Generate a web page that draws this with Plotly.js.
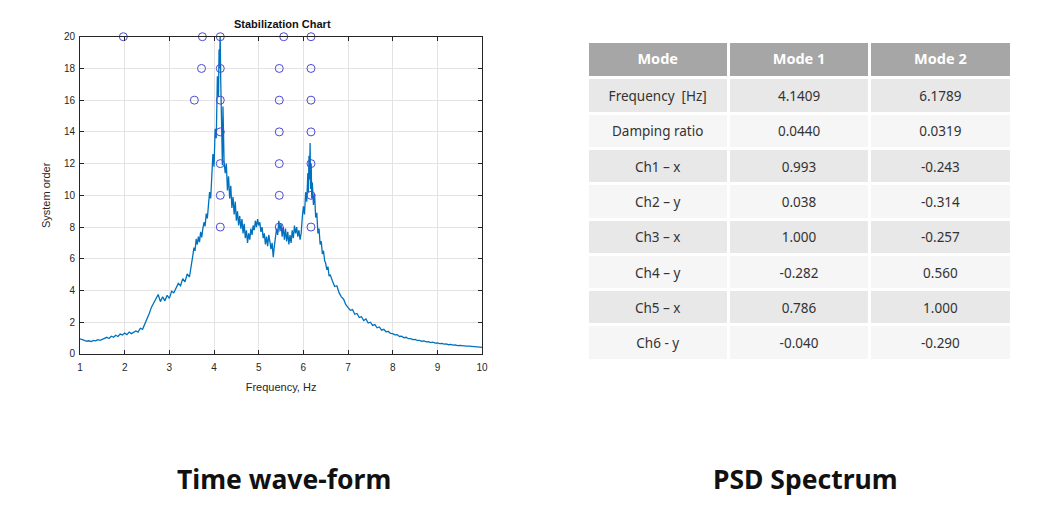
<!DOCTYPE html>
<html>
<head>
<meta charset="utf-8">
<script src="https://cdn.plot.ly/plotly-3.0.1.min.js"></script>
<style>html,body{margin:0;padding:0;background:#fff;}#chart{width:1039px;height:510px;}</style>
</head>
<body>
<div id="chart"></div>
<script>
// PSD curve (frequency in Hz, amplitude plotted on the "System order" axis)
var psdFreq = [
1.00,1.05,1.10,1.15,1.20,1.25,1.30,1.35,1.40,1.45,1.50,1.55,1.60,1.65,1.70,1.75,1.80,1.85,1.90,1.95,
2.00,2.05,2.10,2.15,2.20,2.25,2.30,2.35,2.40,2.45,2.50,2.55,2.60,2.65,2.70,2.75,2.80,2.85,2.90,2.95,
3.00,3.05,3.10,3.15,3.20,3.25,3.30,3.35,3.40,3.45,
3.475,3.500,3.525,3.550,3.575,3.600,3.625,3.650,3.675,3.700,3.725,3.750,3.775,3.800,3.825,3.850,3.875,3.900,3.925,3.950,3.975,
4.000,4.025,4.050,4.075,4.100,4.112,4.125,4.137,4.150,4.162,4.175,4.187,4.200,4.225,4.250,4.275,4.300,4.325,4.350,4.375,4.400,
4.425,4.450,4.475,4.500,4.525,4.550,4.575,4.600,4.625,4.650,4.675,4.700,4.725,4.750,4.775,4.800,4.825,4.850,4.875,4.900,4.925,4.950,4.975,
5.000,5.025,5.050,5.075,5.100,5.125,5.150,5.175,5.200,5.225,5.250,5.275,5.300,5.325,5.350,5.375,5.400,5.425,5.450,5.475,5.500,
5.525,5.550,5.575,5.600,5.625,5.650,5.675,5.700,5.725,5.750,5.775,5.800,5.825,5.850,5.875,5.900,5.925,5.950,5.975,
6.000,6.025,6.050,6.075,6.100,6.112,6.125,6.137,6.150,6.162,6.175,6.187,6.200,6.225,6.250,6.275,6.300,6.325,6.350,6.375,6.400,
6.425,6.450,6.475,6.500,6.525,6.550,6.575,6.600,
6.65,6.70,6.75,6.80,6.85,6.90,6.95,7.00,7.05,7.10,7.15,7.20,7.25,7.30,7.35,7.40,7.45,7.50,7.55,7.60,
7.65,7.70,7.75,7.80,7.85,7.90,7.95,8.00,8.05,8.10,8.15,8.20,8.25,8.30,8.35,8.40,8.45,8.50,8.55,8.60,
8.65,8.70,8.75,8.80,8.85,8.90,8.95,9.00,9.05,9.10,9.15,9.20,9.25,9.30,9.35,9.40,9.45,9.50,9.55,9.60,
9.65,9.70,9.75,9.80,9.85,9.90,9.95,10.00];
var psdValue = [
0.95,0.88,0.85,0.80,0.83,0.78,0.85,0.82,0.90,0.86,0.93,0.98,1.05,0.97,1.12,1.05,1.18,1.10,1.25,1.20,
1.32,1.22,1.38,1.28,1.35,1.45,1.38,1.62,1.55,1.85,2.25,2.55,2.95,3.25,3.50,3.75,3.30,3.60,3.35,3.70,
3.50,3.95,3.85,4.20,4.45,4.30,4.75,4.55,5.05,4.85,
5.25,5.60,6.20,6.70,6.50,7.25,6.90,7.40,7.05,7.70,7.35,7.90,8.30,8.05,8.85,8.55,9.40,10.20,9.80,11.20,12.60,
11.80,14.20,13.60,17.50,16.20,19.20,18.00,20.30,17.20,15.80,14.80,11.90,15.60,12.10,11.40,12.00,10.30,11.20,9.80,10.60,9.20,
9.90,8.80,9.60,8.40,9.00,8.10,8.70,7.90,8.50,7.60,8.20,7.30,7.80,7.00,7.60,7.20,7.90,7.50,8.10,7.80,8.40,8.00,8.50,
8.10,8.30,7.70,8.00,7.30,7.60,6.90,7.40,6.80,7.50,7.10,6.60,7.00,6.10,6.80,7.40,7.90,7.50,8.40,7.80,8.20,
7.40,8.00,7.20,7.90,7.10,7.70,6.90,7.50,7.00,7.80,7.30,8.10,7.60,8.00,7.40,7.80,7.20,7.60,8.60,
9.30,8.80,10.20,9.60,11.40,10.20,12.50,11.00,13.30,10.40,12.00,9.80,10.80,9.40,10.10,8.60,8.90,7.60,7.90,6.90,7.10,
6.30,6.50,5.90,5.70,5.30,5.50,4.90,5.00,
4.60,4.25,4.30,3.85,3.60,3.45,3.10,2.95,2.75,2.80,2.50,2.55,2.30,2.35,2.10,2.20,1.95,2.00,1.80,1.85,
1.65,1.70,1.50,1.55,1.40,1.42,1.30,1.28,1.20,1.22,1.10,1.12,1.02,1.05,0.96,0.97,0.90,0.92,0.85,0.86,
0.80,0.82,0.76,0.78,0.72,0.74,0.68,0.70,0.65,0.66,0.62,0.63,0.58,0.60,0.56,0.57,0.53,0.54,0.51,0.52,
0.49,0.49,0.47,0.47,0.45,0.45,0.43,0.42];

// Stable poles (frequency, model order)
var poleFreq  = [1.97, 3.74, 3.72, 3.56, 4.14,4.14,4.14,4.14,4.14,4.14,4.14, 5.56, 5.46,5.46,5.46,5.46,5.46,5.46, 6.17,6.17,6.17,6.17,6.17,6.17,6.17];
var poleOrder = [20,   20,   18,   16,   20,18,16,14,12,10,8,               20,   18,16,14,12,10,8,               20,18,16,14,12,10,8];

// Table contents
var tableHeader = ["Mode", "Mode 1", "Mode 2"];
var rowLabels = ["Frequency  [Hz]", "Damping ratio", "Ch1 \u2013 x", "Ch2 \u2013 y", "Ch3 \u2013 x", "Ch4 \u2013 y", "Ch5 \u2013 x", "Ch6 - y"];
var mode1Values = ["4.1409", "0.0440", "0.993", "0.038", "1.000", "-0.282", "0.786", "-0.040"];
var mode2Values = ["6.1789", "0.0319", "-0.243", "-0.314", "-0.257", "0.560", "1.000", "-0.290"];

var captions = ["Time wave-form", "PSD Spectrum"];

var rowFill = rowLabels.map(function(_, i){ return i % 2 === 0 ? "#e8e8e8" : "#f6f6f6"; });
var blank = rowLabels.map(function(){ return ""; });
var clear = "rgba(0,0,0,0)";

var traces = [
  {
    type: "scatter", mode: "lines", x: psdFreq, y: psdValue,
    line: {color: "#0072bd", width: 1.3}, xaxis: "x", yaxis: "y", hoverinfo: "skip"
  },
  {
    type: "scatter", mode: "markers", x: poleFreq, y: poleOrder, cliponaxis: false,
    marker: {symbol: "circle-open", size: 8, color: "#4a4ad8", line: {width: 1, color: "#4a4ad8"}},
    xaxis: "x", yaxis: "y"
  },
  // table body: cell backgrounds
  {
    type: "table",
    domain: {x: [0.565, 0.974], y: [0.28, 0.918]},
    columnwidth: [1, 1, 1],
    header: {
      values: ["", "", ""],
      fill: {color: "#a6a6a6"},
      line: {color: "#ffffff", width: 3},
      height: 36
    },
    cells: {
      values: [blank, blank, blank],
      fill: {color: [rowFill, rowFill, rowFill]},
      line: {color: "#ffffff", width: 3},
      height: 35.3
    }
  },
  // table text, laid over the backgrounds so it sits in the middle of each cell
  {
    type: "table",
    domain: {x: [0.565, 0.974], y: [0.26, 0.912]},
    columnwidth: [1, 1, 1],
    header: {
      values: tableHeader,
      fill: {color: clear},
      line: {color: clear, width: 0},
      align: "center",
      height: 38,
      font: {family: "Noto Sans, sans-serif", size: 14.5, color: "#ffffff", weight: "bold"}
    },
    cells: {
      values: [rowLabels, mode1Values, mode2Values],
      fill: {color: clear},
      line: {color: clear, width: 0},
      align: "center",
      height: 35.3,
      font: {family: "Noto Sans, sans-serif", size: 13.5, color: "#333333"}
    }
  }
];

var axisFont = {family: "Liberation Sans, Arial, sans-serif", size: 10, color: "#262626"};

var layout = {
  width: 1039, height: 510,
  margin: {l: 0, r: 0, t: 0, b: 0},
  paper_bgcolor: "#ffffff", plot_bgcolor: "#ffffff",
  showlegend: false,
  xaxis: {
    domain: [0.077, 0.464], range: [1, 10], dtick: 1,
    showgrid: true, gridcolor: "#e3e3e3", gridwidth: 1,
    zeroline: false, showline: true, linecolor: "#262626", linewidth: 1,
    mirror: "ticks", ticks: "inside", ticklen: 4, tickcolor: "#262626",
    tickfont: axisFont, ticklabelstandoff: 4,
    title: {text: "Frequency, Hz", font: {family: "Liberation Sans, Arial, sans-serif", size: 11, color: "#262626"}, standoff: 11}
  },
  yaxis: {
    domain: [0.306, 0.928], range: [0, 20], dtick: 2,
    showgrid: true, gridcolor: "#e3e3e3", gridwidth: 1,
    zeroline: false, showline: true, linecolor: "#262626", linewidth: 1,
    mirror: "ticks", ticks: "inside", ticklen: 4, tickcolor: "#262626",
    tickfont: axisFont, ticklabelstandoff: 2,
    title: {text: "System order", font: {family: "Liberation Sans, Arial, sans-serif", size: 11, color: "#262626"}, standoff: 11}
  },
  annotations: [
    {text: "<b>Stabilization Chart</b>", xref: "paper", yref: "paper", x: 0.272, y: 0.952, xanchor: "center", yanchor: "middle",
     showarrow: false, font: {family: "Liberation Sans, Arial, sans-serif", size: 11, color: "#111111"}},
    {text: "<b>" + captions[0] + "</b>", xref: "paper", yref: "paper", x: 0.273, y: 0.061, xanchor: "center", yanchor: "middle",
     showarrow: false, font: {family: "Noto Sans, sans-serif", size: 26.5, color: "#111111"}},
    {text: "<b>" + captions[1] + "</b>", xref: "paper", yref: "paper", x: 0.775, y: 0.061, xanchor: "center", yanchor: "middle",
     showarrow: false, font: {family: "Noto Sans, sans-serif", size: 26.5, color: "#111111"}}
  ]
};

Plotly.newPlot("chart", traces, layout, {displayModeBar: false, staticPlot: true});
</script>
</body>
</html>
